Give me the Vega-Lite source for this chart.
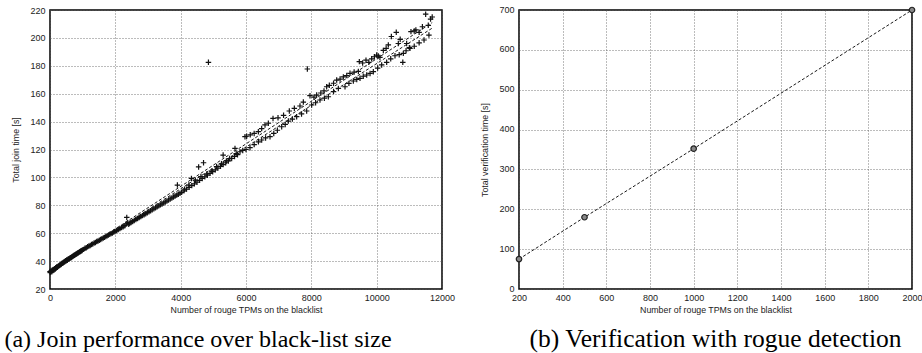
{
"$schema": "https://vega.github.io/schema/vega-lite/v6.json",
"padding": {"left": 3, "top": 4, "right": 0, "bottom": 0},
"bounds": "flush",
"spacing": 77,
"background": "white",
"config": {
  "view": {"stroke": "#000", "strokeWidth": 1.5},
  "axis": {"grid": true, "gridColor": "#555", "gridDash": [1, 2], "gridWidth": 0.8, "domain": false, "ticks": false,
    "labelFont": "Liberation Sans", "labelFontSize": 9, "labelColor": "#222", "labelPadding": 5, "labelFlush": false, "labelOverlap": false,
    "titleFont": "Liberation Sans", "titleFontSize": 8.8, "titleFontWeight": "normal", "titleColor": "#222"},
  "axisX": {"titlePadding": 3, "labelPadding": 4},
  "axisY": {"titlePadding": 9},
  "title": {"font": "Liberation Serif", "fontSize": 24, "fontWeight": "normal", "color": "#000"}
},
"datasets": {
  "join": [
    {"x":0,"y":32.5},{"x":10,"y":31.8},{"x":25,"y":32.6},{"x":40,"y":33},{"x":55,"y":32.4},{"x":70,"y":33.6},{"x":90,"y":33.2},{"x":105,"y":34},{"x":120,"y":33.7},{"x":140,"y":34.6},{"x":160,"y":34.4},{"x":175,"y":35.2},{"x":195,"y":35.3},{"x":210,"y":35.9},{"x":230,"y":35.6},{"x":250,"y":36.4},{"x":270,"y":36.5},{"x":290,"y":37},{"x":310,"y":37.3},{"x":330,"y":37.6},{"x":350,"y":37.9},{"x":370,"y":38.4},{"x":390,"y":38.5},{"x":410,"y":39},{"x":430,"y":39.4},{"x":450,"y":39.5},{"x":470,"y":40.2},{"x":490,"y":40.1},{"x":510,"y":40.8},{"x":530,"y":40.6},{"x":550,"y":41.3},{"x":570,"y":41.6},{"x":590,"y":41.6},{"x":610,"y":42.2},{"x":630,"y":42.4},{"x":650,"y":42.6},{"x":670,"y":43.1},{"x":690,"y":43.3},{"x":710,"y":43.6},{"x":730,"y":44},{"x":750,"y":44.2},{"x":770,"y":44.5},{"x":790,"y":45},{"x":810,"y":45.1},{"x":830,"y":45.5},{"x":850,"y":45.9},{"x":870,"y":46},{"x":890,"y":46.4},{"x":910,"y":46.8},{"x":930,"y":46.9},{"x":950,"y":47.4},{"x":970,"y":47.5},{"x":990,"y":48},
    {"x":1030,"y":48.4},{"x":1070,"y":49.2},{"x":1110,"y":49.6},{"x":1150,"y":50.3},{"x":1190,"y":50.8},{"x":1230,"y":51.2},{"x":1270,"y":51.9},{"x":1310,"y":52.3},{"x":1350,"y":52.9},{"x":1390,"y":53.3},{"x":1430,"y":54},{"x":1470,"y":54.4},{"x":1510,"y":55},{"x":1550,"y":55.5},{"x":1590,"y":56},{"x":1630,"y":56.6},{"x":1670,"y":57},{"x":1710,"y":57.7},{"x":1750,"y":58.1},{"x":1790,"y":58.7},{"x":1830,"y":59.2},{"x":1870,"y":59.7},{"x":1910,"y":60.2},{"x":1950,"y":60.8},{"x":1990,"y":61.2},
    {"x":2040,"y":61.9},{"x":2090,"y":62.6},{"x":2140,"y":63.3},{"x":2190,"y":64},{"x":2240,"y":64.6},{"x":2290,"y":65.4},{"x":2330,"y":66.6},{"x":2350,"y":71.3},{"x":2380,"y":67.5},{"x":2410,"y":66.4},{"x":2440,"y":67.2},{"x":2480,"y":67.6},{"x":2530,"y":68.4},{"x":2580,"y":69.1},{"x":2630,"y":69.8},{"x":2680,"y":70.5},{"x":2730,"y":71.2},{"x":2780,"y":71.9},{"x":2830,"y":72.6},{"x":2880,"y":73.3},{"x":2930,"y":74},{"x":2980,"y":74.7},
    {"x":3030,"y":75.4},{"x":3080,"y":76.1},{"x":3130,"y":76.8},{"x":3180,"y":77.5},{"x":3230,"y":78.2},{"x":3280,"y":78.9},{"x":3330,"y":79.6},{"x":3380,"y":80.3},{"x":3430,"y":81},{"x":3480,"y":81.7},{"x":3530,"y":82.4},{"x":3580,"y":83.1},{"x":3630,"y":83.8},{"x":3680,"y":84.5},{"x":3730,"y":85.2},{"x":3780,"y":85.9},{"x":3830,"y":86.6},{"x":3880,"y":87.3},{"x":3900,"y":94.5},{"x":3930,"y":88},{"x":3980,"y":88.7},
    {"x":4030,"y":89.3},{"x":4100,"y":90.4},{"x":4180,"y":91.6},{"x":4260,"y":92.9},{"x":4340,"y":94.1},{"x":4420,"y":95.4},{"x":4500,"y":96.6},{"x":4580,"y":97.9},{"x":4660,"y":99.2},{"x":4740,"y":100.4},{"x":4820,"y":101.6},{"x":4900,"y":102.9},{"x":4980,"y":104.1},{"x":5060,"y":105.4},{"x":5140,"y":106.7},{"x":5220,"y":107.9},{"x":5300,"y":109.2},{"x":5380,"y":110.5},{"x":5460,"y":111.8},{"x":5561,"y":113.6},{"x":5650,"y":115},{"x":5740,"y":116.3},{"x":5816,"y":118.4},{"x":5900,"y":119.3},{"x":6000,"y":120},
    {"x":4120,"y":91.5},{"x":4250,"y":94.5},{"x":4330,"y":99.3},{"x":4450,"y":98},{"x":4550,"y":107.5},{"x":4620,"y":100.5},{"x":4700,"y":110.5},{"x":4800,"y":102.5},{"x":4850,"y":182.5},{"x":4950,"y":104.5},{"x":5100,"y":107.8},{"x":5250,"y":109.8},{"x":5300,"y":116},{"x":5400,"y":111.8},{"x":5500,"y":113.5},{"x":5663,"y":120.8},{"x":5700,"y":117},{"x":5969,"y":129.2},{"x":6020,"y":129.5},
    {"x":6122,"y":121.3},{"x":6250,"y":123.5},{"x":6380,"y":125.5},{"x":6480,"y":126.8},{"x":6600,"y":128.3},{"x":6735,"y":129.2},{"x":6850,"y":131.5},{"x":6960,"y":133.8},{"x":7092,"y":136.3},{"x":7200,"y":138},{"x":7296,"y":140.4},{"x":7420,"y":141.8},{"x":7551,"y":143.5},{"x":7700,"y":145.5},{"x":7857,"y":147.6},{"x":8010,"y":151.9},{"x":8130,"y":153.5},{"x":8265,"y":155.5},{"x":8400,"y":156.8},{"x":8520,"y":157.8},{"x":8680,"y":161.5},{"x":8827,"y":163.8},{"x":9031,"y":165},{"x":9150,"y":167.4},{"x":9286,"y":169.1},{"x":9390,"y":170.2},{"x":9490,"y":171},{"x":9590,"y":172.5},{"x":9694,"y":173.4},{"x":9798,"y":174.5},{"x":9898,"y":175.8},{"x":10030,"y":178.4},{"x":10153,"y":180.6},{"x":10306,"y":182.5},{"x":10430,"y":185},{"x":10561,"y":187.2},{"x":10690,"y":188},{"x":10816,"y":188.9},{"x":10900,"y":190.8},{"x":11020,"y":192.5},{"x":11150,"y":194},{"x":11300,"y":196.5},{"x":11450,"y":198.5},{"x":11600,"y":202},
    {"x":6130,"y":130.5},{"x":6250,"y":131.5},{"x":6378,"y":132.8},{"x":6480,"y":135},{"x":6582,"y":137.6},{"x":6684,"y":138.8},{"x":6827,"y":142.3},{"x":6980,"y":142.7},{"x":7150,"y":144.5},{"x":7326,"y":147.6},{"x":7480,"y":149.5},{"x":7653,"y":151.2},{"x":7755,"y":154},{"x":7878,"y":177.7},{"x":7959,"y":158.6},{"x":8080,"y":157.5},{"x":8163,"y":159},{"x":8290,"y":160.5},{"x":8388,"y":162},{"x":8469,"y":165},{"x":8551,"y":166},{"x":8680,"y":167.5},{"x":8776,"y":169.8},{"x":8880,"y":170.5},{"x":8980,"y":172},{"x":9084,"y":173},{"x":9184,"y":174.6},{"x":9310,"y":175.5},{"x":9439,"y":176},{"x":9469,"y":183},{"x":9570,"y":182},{"x":9673,"y":184},{"x":9760,"y":182.5},{"x":9847,"y":185},{"x":9930,"y":186.5},{"x":10000,"y":187.7},{"x":10050,"y":187},{"x":10100,"y":186},{"x":10204,"y":191},{"x":10290,"y":192.5},{"x":10357,"y":195},{"x":10450,"y":201},{"x":10600,"y":204},{"x":10663,"y":196},{"x":10720,"y":199},{"x":10800,"y":182.5},{"x":10918,"y":196},{"x":11000,"y":193},{"x":11050,"y":204.5},{"x":11150,"y":205},{"x":11200,"y":205.7},{"x":11300,"y":204},{"x":11400,"y":208},{"x":11500,"y":217},{"x":11580,"y":209},{"x":11650,"y":213.5},{"x":11700,"y":215}
  ],
  "fits": [
    {"fit":"a","x":0,"y":32.5},{"fit":"a","x":11700,"y":211},
    {"fit":"b","x":0,"y":32},{"fit":"b","x":11700,"y":207}
  ],
  "verif": [
    {"x":200,"y":75},{"x":500,"y":180},{"x":1000,"y":352},{"x":2000,"y":700}
  ]
},
"hconcat": [
  {
    "width": 392, "height": 279,
    "title": {"text": "(a) Join performance over black-list size", "orient": "bottom", "anchor": "middle", "dx": -48, "offset": 14, "font": "Liberation Serif", "fontSize": 24, "fontWeight": "normal"},
    "layer": [
      {
        "data": {"name": "fits"},
        "mark": {"type": "line", "color": "#000", "strokeWidth": 0.9, "strokeDash": [3, 2]},
        "encoding": {
          "x": {"field": "x", "type": "quantitative", "scale": {"domain": [0, 12000], "nice": false},
            "axis": {"values": [0, 2000, 4000, 6000, 8000, 10000, 12000], "format": "d", "labelOverlap": false, "title": "Number of rouge TPMs on the blacklist"}},
          "y": {"field": "y", "type": "quantitative", "scale": {"domain": [20, 220], "nice": false, "zero": false},
            "axis": {"values": [20, 40, 60, 80, 100, 120, 140, 160, 180, 200, 220], "labelOverlap": false, "tickCount": 11, "title": "Total join time [s]"}},
          "detail": {"field": "fit", "type": "nominal"}
        }
      },
      {
        "data": {"name": "join"},
        "mark": {"type": "point", "shape": "M-1,0L1,0M0,-1L0,1", "size": 30, "filled": false, "stroke": "#111", "strokeWidth": 1.2, "opacity": 1},
        "encoding": {
          "x": {"field": "x", "type": "quantitative"},
          "y": {"field": "y", "type": "quantitative"}
        }
      }
    ]
  },
  {
    "width": 393, "height": 279,
    "title": {"text": "(b) Verification with rogue detection", "orient": "bottom", "anchor": "middle", "offset": 13, "font": "Liberation Serif", "fontSize": 25.5, "fontWeight": "normal"},
    "layer": [
      {
        "data": {"name": "verif"},
        "mark": {"type": "line", "color": "#000", "strokeWidth": 0.9, "strokeDash": [3, 2]},
        "encoding": {
          "x": {"field": "x", "type": "quantitative", "scale": {"domain": [200, 2000], "nice": false, "zero": false},
            "axis": {"values": [200, 400, 600, 800, 1000, 1200, 1400, 1600, 1800, 2000], "format": "d", "labelOverlap": false, "title": "Number of rouge TPMs on the blacklist"}},
          "y": {"field": "y", "type": "quantitative", "scale": {"domain": [0, 700], "nice": false},
            "axis": {"values": [0, 100, 200, 300, 400, 500, 600, 700], "labelOverlap": false, "labelOffset": -1, "tickCount": 8, "title": "Total verification time [s]"}}
        }
      },
      {
        "data": {"name": "verif"},
        "mark": {"type": "point", "shape": "circle", "size": 30, "filled": true, "fill": "#888", "stroke": "#222", "strokeWidth": 1.2, "opacity": 1},
        "encoding": {
          "x": {"field": "x", "type": "quantitative"},
          "y": {"field": "y", "type": "quantitative"}
        }
      }
    ]
  }
]
}
